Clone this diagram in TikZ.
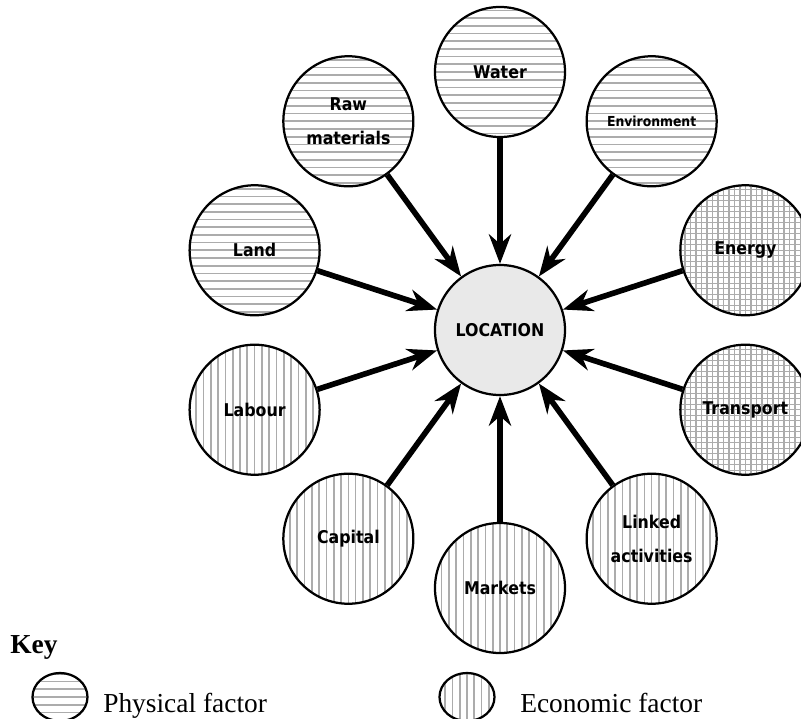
\documentclass[tikz,border=0pt]{standalone}
\usepackage{fontspec}
\setmainfont{Liberation Serif}
\newfontfamily\circfont{DejaVu Sans Condensed}
\usetikzlibrary{arrows.meta, shapes.geometric}

\begin{document}
\begin{tikzpicture}[
    x=0.025cm, y=0.025cm,
    circ/.style={circle, draw, line width=1.6pt, minimum size=3.25cm, inner sep=1pt,
                 align=center, font=\circfont\bfseries\fontsize{12.5}{24}\selectfont},
    hatch/.style={gray!65, line width=1.2pt},
    hfill/.style={path picture={
        \foreach \k in {-10,...,10}
          \draw[hatch] ([shift={(-70,\k*7.7)}]path picture bounding box.center) -- ++(140,0);}},
    vfill/.style={path picture={
        \foreach \k in {-10,...,10}
          \draw[hatch] ([shift={(\k*7.3,-70)}]path picture bounding box.center) -- ++(0,140);}},
    gfill/.style={path picture={
        \foreach \k in {-13,...,13} {
          \draw[hatch, line width=0.9pt] ([shift={(-70,\k*5.5)}]path picture bounding box.center) -- ++(140,0);
          \draw[hatch, line width=0.9pt] ([shift={(\k*5.5,-70)}]path picture bounding box.center) -- ++(0,140);}}},
    phys/.style={circ, hfill},
    econ/.style={circ, vfill},
    grid/.style={circ, gfill},
    keyoval/.style={ellipse, draw, line width=1.6pt, minimum width=1.375cm, minimum height=1.2cm},
    keytext/.style={anchor=base west, inner sep=0pt, font=\fontsize{19.5}{22}\selectfont},
    arr/.style={-{Stealth}, line width=4pt}
  ]
    \useasboundingbox (-500,-388) rectangle (301,330);

    \node[circ, fill=gray!17] (loc) at (0,0) {LOCATION};

    \node[phys] (water) at (90:258)  {Water};
    \node[phys] (raw)   at (126:258) {Raw\\materials};
    \node[phys] (land)  at (162:258) {Land};
    \node[phys, font=\circfont\bfseries\fontsize{9.8}{19}\selectfont] (env) at (54:258) {Environment};
    \node[grid] (energy)    at (18:258)  {Energy};
    \node[grid] (transport) at (-18:258) {Transport};
    \node[econ] (labour)  at (198:258) {Labour};
    \node[econ] (capital) at (234:258) {Capital};
    \node[econ] (markets) at (270:258) {Markets};
    \node[econ] (linked)  at (306:258) {Linked\\activities};

    \foreach \src in {water, raw, land, env, energy, transport, labour, capital, markets, linked}
      \draw[arr] (\src) -- (loc);

    % key
    \node[anchor=base west, inner sep=0pt, font=\bfseries\fontsize{19.5}{22}\selectfont] (keyhead) at (-490,-323) {Key};
    \node[keyoval, hfill] (kphys) at (-440,-367) {};
    \node[keytext] (tphys) at (-397,-382) {Physical factor};
    \node[keyoval, vfill] (kecon) at (-33,-367) {};
    \node[keytext] (tecon) at (20,-382) {Economic factor};
  \end{tikzpicture}
\end{document}
